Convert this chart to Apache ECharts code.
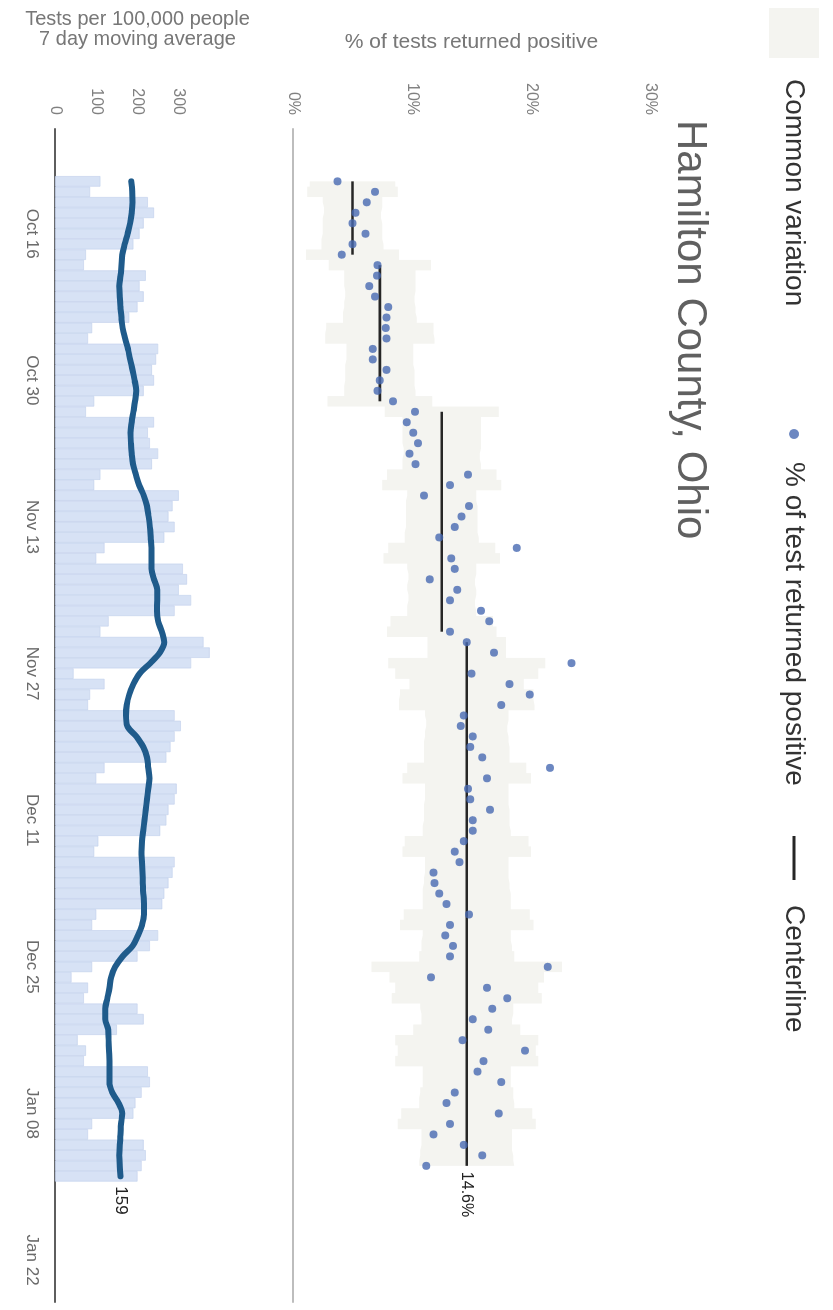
<!DOCTYPE html>
<html>
<head>
<meta charset="utf-8">
<script src="https://cdn.jsdelivr.net/npm/echarts@6/dist/echarts.min.js"></script>
<style>
html,body{margin:0;padding:0;background:#fff;overflow:hidden;width:833px;height:1310px;}
#chart{position:absolute;left:0;top:0;width:1310px;height:833px;transform-origin:0 0;transform:translate(833px,0) rotate(90deg);}
</style>
</head>
<body>
<div id="chart"></div>
<script>
// ---- data (one value per day, starting Oct 11) ----
const axisStart = [2020, 9, 6];   // Oct 6 2020
const axisEnd   = [2021, 0, 26];  // Jan 26 2021
const dataStart = 'Oct 11';
const tickLabels = ['Oct 16','Oct 30','Nov 13','Nov 27','Dec 11','Dec 25','Jan 08','Jan 22'];

const pctPositive = [
  3.75, 6.9, 6.2, 5.25, 5.0, 6.1, 5.0, 4.1,
  7.1, 7.05, 6.4, 6.9, 8.0, 7.85, 7.8, 7.85, 6.7, 6.7, 7.85, 7.3, 7.1, 8.4,
  10.25, 9.55, 10.1, 10.5, 9.8, 10.3, 14.7, 13.2, 11.0, 14.8, 14.15, 13.6, 12.3, 18.8, 13.3, 13.6, 11.5, 13.8, 13.2, 15.8, 16.5, 13.2,
  14.6, 16.9, 23.4, 15.0, 18.2, 19.9, 17.5, 14.35, 14.1, 15.1, 14.9, 15.9, 21.6, 16.3, 14.7, 14.9, 16.55, 15.1, 15.1, 14.35, 13.6, 14.0,
  11.8, 11.9, 12.3, 12.9, 14.8, 13.2, 12.8, 13.45, 13.2, 21.4, 11.6, 16.3, 18.0, 16.75, 15.1, 16.4, 14.25, 19.5, 16.0, 15.5,
  17.5, 13.6, 12.9, 17.3, 13.2, 11.8, 14.35, 15.9, 11.2
];
const limitSpread = [
  3.6, 3.8, 2.5, 2.4, 2.5, 2.5, 2.6, 3.9,
  4.3, 3.0, 3.0, 2.9, 3.0, 3.1, 4.5, 4.6, 2.8, 2.8, 2.9, 2.9, 3.0, 4.4,
  4.8, 3.3, 3.3, 3.3, 3.2, 3.3, 4.6, 5.0, 2.9, 3.0, 3.0, 3.0, 3.1, 4.5, 4.9, 2.9, 2.8, 2.9, 2.8, 2.9, 4.3, 4.6,
  3.3, 3.3, 6.6, 6.0, 4.8, 5.6, 5.7,
  3.5, 3.4, 3.5, 3.6, 3.6, 5.0, 5.4,
  3.5, 3.5, 3.6, 3.6, 3.7, 5.2, 5.4,
  3.5, 3.5, 3.6, 3.7, 3.7, 5.3, 5.6,
  3.7, 3.8, 4.0, 8.0, 6.5, 6.0, 6.3,
  3.9, 3.8, 4.5, 6.0, 5.8, 6.0,
  3.7, 3.7, 3.9, 4.0, 5.5, 5.8,
  3.8, 3.8, 3.9, 4.0
];
const centerStart = [0, 8, 22, 44];
const centerEnd   = [7, 21, 43, 94];
const centerValue = [5.0, 7.3, 12.5, 14.6];

const testsDaily = [
  110, 85, 225, 240, 215, 205, 190,
  75, 70, 220, 205, 215, 200, 180,
  90, 80, 250, 245, 235, 240, 215,
  95, 75, 240, 225, 230, 250, 235,
  110, 95, 300, 285, 275, 290, 265,
  120, 100, 310, 320, 300, 330, 290,
  130, 110, 360, 375, 330, 45, 120,
  85, 80, 290, 305, 290, 280, 270,
  120, 100, 295, 290, 275, 270, 255,
  105, 95, 290, 285, 275, 265, 260,
  100, 90, 250, 230, 200, 90, 40,
  80, 70, 200, 215, 150, 55,
  75, 70, 225, 230, 210, 195, 190,
  90, 80, 215, 220, 210, 200
];
const testsAvg7 = [
  185, 187, 188, 186, 182, 176, 169, 163, 161, 159,
  156, 157, 159, 161, 164, 170, 177, 182, 188, 193,
  197, 194, 190, 186, 183, 184, 186, 189, 196, 204,
  215, 223, 227, 230, 232, 234, 234, 234, 240, 248,
  248, 247, 250, 259, 265, 254, 231, 205, 190, 180,
  174, 172, 175, 197, 214, 223, 226, 229, 226, 223,
  220, 217, 214, 211, 210, 211, 212, 213, 214, 216,
  216, 211, 201, 188, 164, 146, 136, 132, 127, 122,
  122, 129, 130, 131, 132, 132, 132, 139, 154,
  163, 160, 159, 157, 156, 157, 159
];

// ---- build categories (daily dates) ----
const MONTHS = ['Jan','Feb','Mar','Apr','May','Jun','Jul','Aug','Sep','Oct','Nov','Dec'];
const categories = [];
(function(){
  const d = new Date(axisStart[0], axisStart[1], axisStart[2], 12);
  const end = new Date(axisEnd[0], axisEnd[1], axisEnd[2], 12);
  while (d <= end) {
    categories.push(MONTHS[d.getMonth()] + ' ' + String(d.getDate()).padStart(2,'0'));
    d.setDate(d.getDate() + 1);
  }
})();
const startIdx = categories.indexOf(dataStart.replace(/ (\d)$/, ' 0$1'));

function centerAt(k){
  for (let s = 0; s < centerStart.length; s++) if (k >= centerStart[s] && k <= centerEnd[s]) return centerValue[s];
  return null;
}
const bandLow = limitSpread.map((w,k)=>[startIdx+k, +(centerAt(k)-w).toFixed(2)]);
const bandWidth = limitSpread.map((w,k)=>[startIdx+k, +(2*w).toFixed(2)]);
const pts = pctPositive.map((v,k)=>[startIdx+k, v]);
const bars = testsDaily.map((v,k)=>[startIdx+k, v]);
const avg = testsAvg7.map((v,k)=>[startIdx+k, v]);

const FONT = '"Liberation Sans", Arial, Helvetica, sans-serif';
const BAND = '#f4f4f0';

const centerSeries = centerValue.map((v,s)=>{
  const o = {
    name: 'Centerline', type: 'line', xAxisIndex: 0, yAxisIndex: 0,
    symbol: 'none', z: 3, silent: true,
    lineStyle: {color: '#262626', width: 2.6},
    itemStyle: {color: '#262626'},
    data: [[startIdx+centerStart[s], v], [startIdx+centerEnd[s], v]]
  };
  if (s === centerValue.length-1) {
    o.endLabel = {show: true, formatter: v.toFixed(1)+'%', fontSize: 16, fontFamily: FONT, color: '#222', distance: 6};
  }
  return o;
});

const chart = echarts.init(document.getElementById('chart'), null, {renderer: 'canvas', width: 1310, height: 833});
chart.setOption({
  animation: false,
  backgroundColor: '#ffffff',
  textStyle: {fontFamily: FONT},
  title: {
    text: 'Hamilton County, Ohio', left: 115, top: 117,
    textStyle: {fontSize: 42, fontWeight: 'normal', color: '#606060', fontFamily: FONT}
  },
  legend: [
    {
      left: 8, top: 14, padding: 0, itemWidth: 50, itemHeight: 50,
      data: [{name: 'Common variation', icon: 'rect', itemStyle: {color: BAND}}],
      textStyle: {fontSize: 28, color: '#333', fontFamily: FONT, padding: [0,0,0,16]}
    },
    {
      left: 429, top: 25, padding: 0, itemWidth: 10, itemHeight: 10,
      data: [{name: '% of test returned positive', icon: 'circle'}],
      textStyle: {fontSize: 28, color: '#333', fontFamily: FONT, padding: [0,0,0,18]}
    },
    {
      left: 836, top: 25, padding: 0, itemWidth: 44, itemHeight: 3,
      data: [{name: 'Centerline', icon: 'rect', itemStyle: {color: '#262626'}}],
      textStyle: {fontSize: 28, color: '#333', fontFamily: FONT, padding: [0,0,0,20]}
    }
  ],
  grid: [
    {left: 129, right: 8, top: 183, height: 357},
    {left: 129, right: 8, top: 613, height: 165}
  ],
  xAxis: [
    {
      type: 'category', gridIndex: 0, data: categories, boundaryGap: false,
      axisLine: {lineStyle: {color: '#bdbdbd', width: 2}},
      axisTick: {show: false}, axisLabel: {show: false}, splitLine: {show: false}
    },
    {
      type: 'category', gridIndex: 1, data: categories, boundaryGap: false,
      axisLine: {lineStyle: {color: '#5e5e5e', width: 2}},
      axisTick: {show: false}, splitLine: {show: false},
      axisLabel: {
        interval: (i, v) => tickLabels.indexOf(v) >= 0,
        fontSize: 17, color: '#6a6a6a', margin: 15, fontFamily: FONT
      }
    }
  ],
  yAxis: [
    {
      type: 'value', gridIndex: 0, min: 0, max: 30, interval: 10,
      name: '% of tests returned positive', nameLocation: 'middle', nameRotate: 90, nameGap: 76,
      nameTextStyle: {fontSize: 21, color: '#777', fontFamily: FONT},
      axisLine: {show: false}, axisTick: {show: false}, splitLine: {show: false},
      axisLabel: {formatter: '{value}%', fontSize: 16, color: '#808080', margin: 14, fontFamily: FONT}
    },
    {
      type: 'value', gridIndex: 1, min: 0, max: 400, interval: 100,
      name: 'Tests per 100,000 people\n7 day moving average', nameLocation: 'middle', nameRotate: 90, nameGap: 80,
      nameTextStyle: {fontSize: 20, color: '#777', fontFamily: FONT, lineHeight: 20},
      axisLine: {show: false}, axisTick: {show: false}, splitLine: {show: false},
      axisLabel: {formatter: v => v >= 400 ? '' : String(v), fontSize: 16, color: '#808080', margin: 14, fontFamily: FONT}
    }
  ],
  series: [
    {
      name: 'bandBase', type: 'line', xAxisIndex: 0, yAxisIndex: 0, stack: 'cv', step: 'middle',
      symbol: 'none', silent: true, z: 1, lineStyle: {opacity: 0, width: 0}, data: bandLow
    },
    {
      name: 'Common variation', type: 'line', xAxisIndex: 0, yAxisIndex: 0, stack: 'cv', step: 'middle',
      symbol: 'none', silent: true, z: 1, lineStyle: {opacity: 0, width: 0},
      itemStyle: {color: BAND}, areaStyle: {color: BAND, opacity: 1}, data: bandWidth
    },
    ...centerSeries,
    {
      name: '% of test returned positive', type: 'scatter', xAxisIndex: 0, yAxisIndex: 0,
      symbol: 'circle', symbolSize: 8, z: 4,
      itemStyle: {color: '#4769b2'}, data: pts
    },
    {
      name: 'Daily tests', type: 'bar', xAxisIndex: 1, yAxisIndex: 1, barCategoryGap: '0%',
      itemStyle: {color: '#d7e2f5', borderColor: '#bfcfeb', borderWidth: 0.6}, z: 1, data: bars
    },
    {
      name: 'Tests 7 day average', type: 'line', xAxisIndex: 1, yAxisIndex: 1, smooth: 0.35,
      symbol: 'none', z: 3, lineStyle: {color: '#1f5b8b', width: 6, cap: 'round'},
      itemStyle: {color: '#1f5b8b'},
      endLabel: {show: true, formatter: '159', fontSize: 17, color: '#222', fontFamily: FONT, distance: 10},
      data: avg
    }
  ]
});
</script>
</body>
</html>
